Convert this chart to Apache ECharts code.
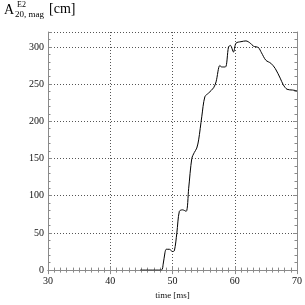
<!DOCTYPE html>
<html><head><meta charset="utf-8">
<script src="https://cdn.jsdelivr.net/npm/echarts@6/dist/echarts.min.js"></script>
<style>html,body{margin:0;padding:0;background:#fff}#c{width:305px;height:305px}</style>
</head><body><div id="c"></div>
<script>
const timeMs = [44.8,48.2,48.5,48.8,49.0,49.5,50.0,50.3,50.7,51.1,51.6,52.2,52.6,53.1,53.5,53.9,54.2,54.7,55.2,55.8,56.6,57.0,57.6,57.9,58.5,59.0,59.3,59.8,60.2,61.0,61.8,62.5,63.0,63.8,64.3,65.0,65.8,66.5,67.3,67.8,68.4,69.3,70.0];
const amag = [0,0,8,24,28,28,25,26,50,79,81,79,110,150,158,164,175,206,233,238,245,253,275,273,273,300,302,293,305,307,308,305,301,299,292,282,278,271,258,249,243,242,241];
const yTicks = [0,50,100,150,200,250,300];
const xTicks = [30,40,50,60,70];

const chart = echarts.init(document.getElementById('c'));
const serif = 'Liberation Serif';
const axCol = '#8a8a8a';
const data = timeMs.map((t,i)=>[t, amag[i]]);
chart.setOption({
  animation:false,
  grid:{left:48,right:6,top:32,bottom:33},
  xAxis:[{
    type:'value',min:xTicks[0],max:xTicks[xTicks.length-1],interval:10,
    name:'time [ms]',nameLocation:'middle',nameGap:17,
    nameTextStyle:{fontFamily:serif,fontSize:9,color:'#111'},
    axisLine:{show:true,lineStyle:{color:axCol}},
    axisTick:{show:true,inside:true,length:4,lineStyle:{color:axCol}},
    minorTick:{show:true,splitNumber:10,length:2.5,lineStyle:{color:axCol}},
    axisLabel:{fontFamily:serif,fontSize:10,color:'#111',margin:6},
    splitLine:{show:true,lineStyle:{color:'#555',type:[1,2],width:1}}
  },{
    type:'value',position:'top',min:30,max:70,interval:10,
    axisLine:{show:true,lineStyle:{color:axCol}},
    axisTick:{show:true,inside:true,length:4,lineStyle:{color:axCol}},
    minorTick:{show:true,splitNumber:10,length:2.5,lineStyle:{color:axCol}},
    axisLabel:{show:false},splitLine:{show:false}
  }],
  yAxis:[{
    type:'value',min:0,max:320,interval:50,
    axisLine:{show:true,lineStyle:{color:axCol}},
    axisTick:{show:true,inside:true,length:4,lineStyle:{color:axCol}},
    minorTick:{show:true,splitNumber:5,length:2.5,lineStyle:{color:axCol}},
    axisLabel:{fontFamily:serif,fontSize:10,color:'#111',margin:4,showMaxLabel:false,
      formatter:v=>yTicks.includes(v)?String(v):''},
    splitLine:{show:true,lineStyle:{color:'#555',type:[1,2],width:1}}
  },{
    type:'value',position:'right',min:0,max:320,interval:50,
    axisLine:{show:true,lineStyle:{color:axCol}},
    axisTick:{show:true,inside:true,length:4,lineStyle:{color:axCol}},
    minorTick:{show:true,splitNumber:5,length:2.5,lineStyle:{color:axCol}},
    axisLabel:{show:false},splitLine:{show:false}
  }],
  graphic:[
    {type:'text',left:4,top:3,style:{text:'A',font:'14px "Liberation Serif"',fill:'#000'}},
    {type:'text',left:17,top:1,style:{text:'E2',font:'8px "Liberation Serif"',fill:'#000'}},
    {type:'text',left:15,top:10,style:{text:'20, mag',font:'9px "Liberation Serif"',fill:'#000'}},
    {type:'text',left:49,top:2,style:{text:'[cm]',font:'14px "Liberation Serif"',fill:'#000'}}
  ],
  series:[{
    type:'line',data:data,showSymbol:false,smooth:0.3,
    lineStyle:{color:'#000',width:1},xAxisIndex:0,yAxisIndex:0
  }]
});
</script></body></html>
